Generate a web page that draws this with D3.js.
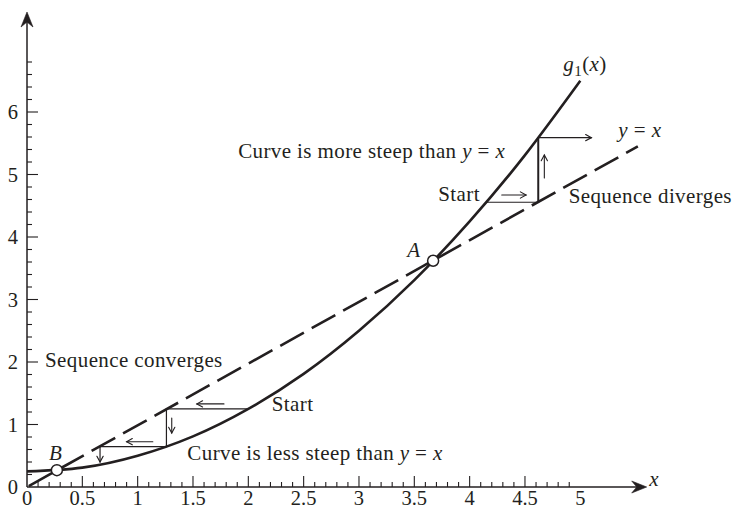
<!DOCTYPE html>
<html>
<head>
<meta charset="utf-8">
<script src="https://cdn.jsdelivr.net/npm/d3@7"></script>
<style>
  body { margin: 0; background: #fff; }
  text { font-family: "Liberation Serif", "DejaVu Serif", serif; fill: #231f20; }
</style>
</head>
<body>
<svg id="chart" width="732" height="512"></svg>
<script>
// g1(x) sampled along x
const curveX = [0, 0.5, 1, 1.5, 2, 2.5, 3, 3.5, 4, 4.5, 5];
const curveY = [0.25, 0.31, 0.5, 0.81, 1.25, 1.81, 2.5, 3.31, 4.25, 5.31, 6.5];

// dashed reference line y = x
const diagX = [0, 5.52];
const diagY = [0, 5.45];

// fixed points where the curve meets the line
const fixedNames = ["B", "A"];
const fixedX = [0.27, 3.67];
const fixedY = [0.27, 3.62];

// converging iteration (starts on the curve at x = 2)
const convX = [1.99, 1.26, 1.26, 0.66];
const convY = [1.25, 1.25, 0.645, 0.645];

// diverging iteration
const divX = [4.15, 4.62];
const divY = [4.556, 4.556];
const divRiseY = [4.556, 5.59];

// axis ticks and their labels
const xTickValues = [0, 0.5, 1, 1.5, 2, 2.5, 3, 3.5, 4, 4.5, 5];
const xTickLabels = ["0", "0.5", "1", "1.5", "2", "2.5", "3", "3.5", "4", "4.5", "5"];
const yTickValues = [0, 1, 2, 3, 4, 5, 6];
const yTickLabels = ["0", "1", "2", "3", "4", "5", "6"];

// direction arrows [x1, y1, x2, y2]
const convArrows = [
  [1.78, 1.33, 1.535, 1.33],
  [1.137, 0.725, 0.90, 0.725],
  [1.308, 1.104, 1.308, 0.864]
];
const convStepArrow = [0.66, 0.645, 0.66, 0.40];
const divArrows = [
  [4.29, 4.672, 4.51, 4.672],
  [4.675, 4.944, 4.675, 5.312]
];
const divStepArrow = [4.62, 5.59, 5.10, 5.59];

const svg = d3.select("#chart");
const x = d3.scaleLinear().domain([0, 5]).range([27, 580.3]);
const y = d3.scaleLinear().domain([0, 6]).range([487, 112]);
const ink = "#231f20";

// ---------- axes ----------
const axes = svg.append("g");
const xEnd = x(5.6), yEnd = y(7.6);
axes.append("line").attr("x1", x(0)).attr("y1", y(0)).attr("x2", xEnd - 8).attr("y2", y(0))
  .attr("stroke", ink).attr("stroke-width", 1.5);
axes.append("line").attr("x1", x(0)).attr("y1", y(0)).attr("x2", x(0)).attr("y2", yEnd + 8)
  .attr("stroke", ink).attr("stroke-width", 1.5);

function axisHead(tx, ty, ux, uy) {
  const nx = -uy, ny = ux;
  const p = [
    [tx, ty],
    [tx - 15 * ux + 6 * nx, ty - 15 * uy + 6 * ny],
    [tx - 10 * ux, ty - 10 * uy],
    [tx - 15 * ux - 6 * nx, ty - 15 * uy - 6 * ny]
  ];
  axes.append("path").attr("d", "M" + p.map(d => d.join(",")).join("L") + "Z")
    .attr("fill", ink).attr("stroke", ink).attr("stroke-width", 0.6).attr("stroke-linejoin", "round");
}
axisHead(xEnd, y(0), 1, 0);
axisHead(x(0), yEnd, 0, -1);

// x ticks: minor every 0.1, major every 0.5 (pointing up)
d3.range(1, 50).forEach(i => {
  const v = i / 10, major = i % 5 === 0;
  axes.append("line").attr("x1", x(v)).attr("x2", x(v))
    .attr("y1", y(0)).attr("y2", y(0) - (major ? 11 : 5))
    .attr("stroke", ink).attr("stroke-width", 1.1);
});
// y ticks: minor every 0.2, major every 1 (pointing right)
d3.range(1, 35).forEach(i => {
  const v = i / 5, major = i % 5 === 0;
  axes.append("line").attr("y1", y(v)).attr("y2", y(v))
    .attr("x1", x(0)).attr("x2", x(0) + (major ? 11 : 5))
    .attr("stroke", ink).attr("stroke-width", 1.1);
});

axes.selectAll(".xl").data(xTickValues).join("text")
  .attr("x", d => x(d)).attr("y", 505)
  .attr("text-anchor", "middle").attr("font-size", 20.5)
  .text((d, i) => xTickLabels[i]);
axes.selectAll(".yl").data(yTickValues).join("text")
  .attr("x", 18).attr("y", d => y(d) + 7)
  .attr("text-anchor", "end").attr("font-size", 20.5)
  .text((d, i) => yTickLabels[i]);
axes.append("text").attr("x", x(5.624)).attr("y", y(0) - 1)
  .attr("font-size", 21).attr("font-style", "italic").text("x");

// ---------- reference line and curve ----------
const line = d3.line().x(d => x(d[0])).y(d => y(d[1]));
svg.append("path")
  .attr("d", line(diagX.map((v, i) => [v, diagY[i]])))
  .attr("fill", "none").attr("stroke", ink).attr("stroke-width", 2.6)
  .attr("stroke-dasharray", "27 9").attr("stroke-dashoffset", -2);

svg.append("path")
  .attr("d", d3.line().curve(d3.curveNatural).x(d => x(d[0])).y(d => y(d[1]))(curveX.map((v, i) => [v, curveY[i]])))
  .attr("fill", "none").attr("stroke", ink).attr("stroke-width", 2.6);

// ---------- iteration steps ----------
svg.append("path")
  .attr("d", line(convX.map((v, i) => [v, convY[i]])))
  .attr("fill", "none").attr("stroke", ink).attr("stroke-width", 1.2);
svg.append("path")
  .attr("d", line(divX.map((v, i) => [v, divY[i]])))
  .attr("fill", "none").attr("stroke", ink).attr("stroke-width", 1.2);
svg.append("path")
  .attr("d", line(divRiseY.map(v => [divX[1], v])))
  .attr("fill", "none").attr("stroke", ink).attr("stroke-width", 2);

function arrow(a, sw) {
  const x1 = x(a[0]), y1 = y(a[1]), x2 = x(a[2]), y2 = y(a[3]);
  const ang = Math.atan2(y2 - y1, x2 - x1), L = 6.5, s = 0.5;
  const g = svg.append("g").attr("stroke", ink).attr("fill", "none")
    .attr("stroke-width", sw).attr("stroke-linecap", "round");
  g.append("line").attr("x1", x1).attr("y1", y1).attr("x2", x2).attr("y2", y2);
  g.append("path").attr("d",
    `M${x2 - L * Math.cos(ang - s)},${y2 - L * Math.sin(ang - s)}L${x2},${y2}L${x2 - L * Math.cos(ang + s)},${y2 - L * Math.sin(ang + s)}`);
}
convArrows.forEach(a => arrow(a, 1.1));
divArrows.forEach(a => arrow(a, 1.1));
arrow(convStepArrow, 1.2);
arrow(divStepArrow, 1.2);

// ---------- fixed points ----------
svg.selectAll(".fp").data(fixedX).join("circle")
  .attr("cx", d => x(d)).attr("cy", (d, i) => y(fixedY[i])).attr("r", 5.5)
  .attr("fill", "#fff").attr("stroke", ink).attr("stroke-width", 1.5);

// ---------- annotations ----------
function label(px, py, parts, size) {
  const fs = size || 21;
  const t = svg.append("text").attr("x", x(px)).attr("y", y(py))
    .attr("font-size", fs).attr("letter-spacing", 0.4);
  parts.forEach(p => {
    const s = t.append("tspan").text(p[0]);
    if (p[1] === "i") s.attr("font-style", "italic");
    if (p[1] === "sub") s.attr("font-size", fs * 0.72).attr("dy", 5);
    if (p[1] === "up") s.attr("dy", -5);
  });
  return t;
}
label(4.846, 6.656, [["g", "i"], ["1", "sub"], ["(", "up"], ["x", "i"], [")"]]);
label(5.344, 5.6, [["y", "i"], [" = "], ["x", "i"]]);
label(1.908, 5.267, [["Curve is more steep than "], ["y", "i"], [" = "], ["x", "i"]]);
label(3.716, 4.576, [["Start"]]);
label(4.895, 4.544, [["Sequence diverges"]]);
label(0.163, 1.925, [["Sequence converges"]]);
label(2.212, 1.22, [["Start"]]);
label(1.449, 0.432, [["Curve is less steep than "], ["y", "i"], [" = "], ["x", "i"]]);
label(3.436, 3.68, [[fixedNames[1], "i"]]);
label(0.199, 0.432, [[fixedNames[0], "i"]]);
</script>
</body>
</html>
